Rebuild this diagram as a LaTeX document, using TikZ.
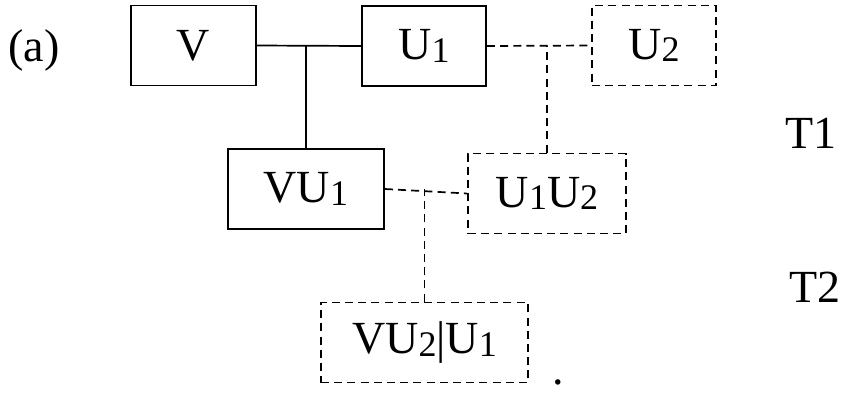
\documentclass[tikz,border=0pt]{standalone}
\usepackage{fontspec}
\setmainfont{Liberation Serif}
\usetikzlibrary{positioning,calc}
\newcommand{\lowix}[1]{\raisebox{-0.12ex}{\fontsize{18}{20}\selectfont #1}}

\begin{document}
\begin{tikzpicture}[
  x=0.5pt, y=-0.5pt,
  font=\fontsize{23}{27}\selectfont,
  var/.style={draw, line width=0.85pt, inner sep=0pt, minimum height=40pt, align=center},
  latent/.style={var, dash pattern=on 4pt off 2.6pt},
  link/.style={line width=0.85pt},
  dlink/.style={link, dash pattern=on 4pt off 2.6pt},
]
\useasboundingbox (0,0) rectangle (841,392);

% Observed variables
\node[var, minimum width=62.5pt] (v) at (193.5,45.5) {V};
\node[var, minimum width=62pt] (u1) at (424,46) {U\lowix{1}};
\node[var, minimum width=78pt] (vu1) at (306,189) {VU\lowix{1}};

% Dashed (hidden) variables
\node[latent, minimum width=62pt] (u2) at (654,45.5) {U\lowix{2}};
\node[latent, minimum width=79pt] (u1u2) at (547,193.5) {U\lowix{1}U\lowix{2}};
\node[latent, minimum width=103.5pt] (vu2) at (424.5,342.5) {VU\lowix{2}|U\lowix{1}};

% Labels
\node (lbla) at (34,50) {(a)};
\node (t1) at (811,133) {T1};
\node (t2) at (815,287) {T2};
\node (dot) at (558,382) {.};

% Junctions
\coordinate (j1) at (vu1.north |- v.east);
\coordinate (j2) at (u1u2.north |- u1.east);
\coordinate (j3) at (vu2.north |- vu1.east);

% Solid links
\draw[link] (v.east) -- (u1.west);
\draw[link] (vu1.north) -- (j1);

% Dashed links
\draw[dlink] (u1.east) -- (u2.west);
\draw[dlink] (u1u2.north) -- (j2);
\draw[dlink] (vu1.east) -- (u1u2.west);
\draw[dlink] (vu2.north) -- (j3);

\end{tikzpicture}
\end{document}
